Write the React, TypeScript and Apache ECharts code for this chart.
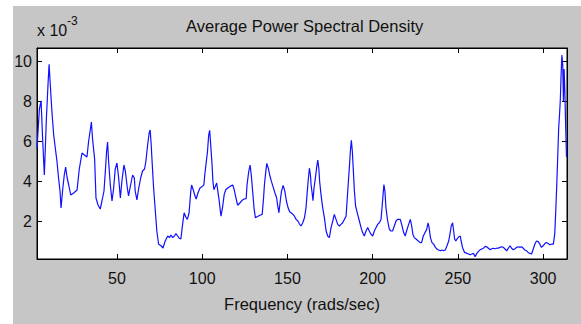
import React, { useEffect, useRef } from "react";
import * as echarts from "echarts";

// Frequency (rads/sec)
const freq = [
  3.1, 4.5, 5.5, 6.4, 7.4, 8.6, 9.6, 10.2, 10.9, 11.9, 12.9, 13.9, 14.8, 15.8, 16.6, 17.2, 18.2, 19.1, 19.9, 20.7,
  21.7, 22.9, 24.6, 26.6, 27.9, 29.5, 30.9, 32.4, 33.4, 34.6, 35.0, 35.7, 36.9, 37.7, 38.9, 40.2, 41.2, 42.4, 43.2, 43.9,
  44.5, 45.1, 46.1, 47.1, 48.0, 49.0, 50.0, 51.0, 52.0, 52.9, 54.1, 54.9, 56.1, 56.8, 58.0, 59.2, 60.2, 60.7, 61.7, 62.7,
  63.9, 65.0, 66.2, 67.0, 68.0, 68.9, 69.5, 70.1, 70.5, 71.5, 72.5, 73.4, 74.4, 76.0, 77.0, 78.3,
  79.8, 80.8, 81.7, 82.7, 83.7, 84.6, 85.6, 86.5, 87.5, 88.5, 89.4, 90.4, 91.3, 92.3, 93.3, 93.8, 94.6, 95.6, 96.5, 97.5,
  98.7, 100.0, 101.0, 101.5, 102.3, 103.1, 103.8, 104.4, 105.0, 105.8, 106.3, 106.9, 107.7, 108.5, 109.2, 110.0, 111.0, 111.9, 112.9, 113.8,
  115.0, 116.3, 117.9, 118.8, 119.8, 120.8, 122.1, 123.5, 124.6, 125.8, 126.3, 127.3, 128.1, 128.8, 129.6, 130.4, 131.2, 132.7, 134.2, 135.2,
  136.0, 136.5, 137.3, 137.9, 138.8, 139.6, 140.6, 141.5, 142.7, 143.7, 144.2, 145.0, 145.8, 146.5, 147.5, 148.5, 149.4, 150.4, 151.3, 152.9,
  154.1, 155.1, 156.1, 157.0, 158.0, 159.0, 160.0, 160.9, 161.5, 162.3, 162.9, 163.5, 163.9, 164.5, 165.0, 165.6, 166.4, 167.2, 167.8, 168.4,
  168.9, 169.7, 170.7, 171.7, 172.7, 173.6, 174.6, 175.6, 176.6, 177.5, 178.5, 179.5, 180.5, 181.4, 182.4, 183.4, 184.4, 185.0, 185.5, 186.3,
  186.9, 187.5, 188.1, 188.7, 189.3, 190.0, 191.2, 192.2, 193.2, 194.1, 195.1, 196.1, 197.1, 198.0, 199.0, 200.0, 201.0, 202.0, 202.9, 203.9,
  204.9, 205.5, 206.1, 206.6, 207.2, 207.8, 208.8, 209.8, 210.7, 211.7, 212.7, 213.7, 214.6, 216.2, 217.0, 218.2, 219.1, 219.9, 221.1, 222.1,
  222.9, 223.6, 224.4, 225.6, 226.8, 227.9, 228.7, 229.7,
  231.7, 232.5, 233.1, 233.9, 234.8, 235.8, 236.8, 237.7, 238.7, 239.7, 240.7, 241.6, 242.6, 243.6, 244.6, 245.5, 246.1, 246.9, 247.5, 248.1,
  248.8, 249.4, 250.4, 251.4, 251.9, 252.7, 253.9, 255.3, 256.2, 257.2, 258.2, 259.1, 260.1, 261.1, 262.1, 263.0, 264.0, 265.0, 266.0, 266.9,
  267.9, 268.9, 269.8, 270.8, 271.8, 272.8, 273.7, 274.7, 275.7, 276.7, 277.6, 278.6, 279.6, 280.5, 281.5, 282.5, 283.5, 284.4, 285.4, 286.4,
  287.4, 288.3, 289.3, 290.3, 291.2, 292.2, 293.2, 294.2, 295.1, 296.1, 297.1, 298.1, 299.0, 300.0, 301.0, 301.9, 302.9, 303.9, 304.9, 306.0,
  306.8, 307.4, 308.0, 308.6, 309.1, 309.7, 310.1, 310.5, 311.0, 311.5, 311.9, 312.3, 312.7, 313.2, 313.7,
];

// Average PSD (x 10^-3)
const psd = [
  5.63, 7.6, 8.0, 6.1, 4.3, 7.1, 8.9, 9.83, 8.8, 7.4, 6.3, 5.6, 5.0, 4.1, 3.5, 2.65, 3.6, 4.3, 4.7, 4.2,
  3.8, 3.3, 3.4, 3.55, 4.6, 5.4, 5.3, 5.2, 6.0, 6.7, 6.95, 6.1, 5.1, 3.15, 2.8, 2.6, 3.0, 3.5, 4.5, 5.45,
  5.95, 5.0, 3.8, 3.0, 3.6, 4.6, 4.9, 4.15, 3.15, 4.0, 4.8, 4.5, 3.65, 3.25, 3.8, 4.3, 4.15, 3.5, 3.05, 3.6,
  4.15, 4.5, 4.6, 5.0, 5.8, 6.4, 6.55, 5.8, 5.15, 3.65, 2.5, 1.5, 0.85, 0.75, 0.65, 1.0,
  1.25, 1.17, 1.3, 1.17, 1.25, 1.37, 1.25, 1.14, 1.1, 1.83, 2.41, 2.2, 2.08, 2.4, 3.48, 3.8, 3.6, 3.3, 3.1, 3.4,
  3.65, 3.73, 3.8, 4.3, 4.88, 5.46, 6.29, 6.53, 5.8, 4.8, 3.98, 3.56, 3.73, 3.9, 3.48, 3.0, 2.24, 2.66, 3.32, 3.56,
  3.65, 3.73, 3.8, 3.56, 3.15, 2.79, 2.9, 3.04, 3.1, 3.12, 3.8, 4.47, 4.8, 4.3, 3.48, 2.66, 2.16, 2.24, 2.3, 2.33,
  3.15, 3.8, 4.47, 4.88, 4.64, 4.3, 3.98, 3.73, 3.4, 3.15, 2.82, 2.41, 3.0, 3.48, 3.78, 3.48, 3.0, 2.66, 2.46, 2.36,
  2.24, 2.08, 2.0, 1.86, 1.75, 1.91, 2.16, 2.66, 3.32, 4.14, 4.64, 4.3, 3.8, 3.4, 3.02, 3.65, 4.14, 4.72, 5.05, 4.64,
  3.98, 3.32, 2.66, 2.16, 1.5, 1.25, 1.17, 1.67, 2.0, 2.33, 2.08, 1.83, 1.75, 1.83, 1.91, 2.08, 2.24, 3.0, 3.65, 4.64,
  5.46, 6.04, 5.46, 4.47, 3.48, 2.74, 2.33, 2.0, 1.67, 1.42, 1.25, 1.5, 1.67, 1.5, 1.34, 1.25, 1.5, 1.67, 1.83, 1.91,
  2.08, 2.66, 3.32, 3.82, 3.48, 2.66, 2.0, 1.58, 1.5, 1.5, 1.75, 2.0, 2.08, 2.08, 1.83, 1.42, 1.25, 1.5, 1.83, 2.08,
  1.75, 1.34, 1.17, 1.09, 1.0, 0.92, 0.92, 1.25,
  1.58, 1.91, 1.67, 1.17, 0.92, 0.84, 0.68, 0.6, 0.55, 0.51, 0.55, 0.51, 0.55, 0.76, 1.0, 1.42, 1.75, 1.91, 1.5, 1.09,
  1.0, 1.09, 1.2, 1.25, 1.0, 0.68, 0.43, 0.38, 0.35, 0.31, 0.35, 0.38, 0.22, 0.38, 0.48, 0.56, 0.6, 0.64, 0.73, 0.71,
  0.64, 0.56, 0.61, 0.64, 0.61, 0.64, 0.64, 0.68, 0.71, 0.68, 0.6, 0.51, 0.64, 0.76, 0.64, 0.56, 0.61, 0.68, 0.71, 0.68,
  0.71, 0.64, 0.55, 0.51, 0.43, 0.38, 0.35, 0.6, 0.84, 1.0, 0.97, 0.84, 0.68, 0.76, 0.87, 0.92, 0.87, 0.81, 0.84, 0.84,
  1.34, 2.49, 3.81, 5.3, 6.62, 7.44, 8.1, 9.2, 10.3, 9.8, 8.0, 9.6, 8.6, 6.8, 5.2,
];

const xTicks = [50, 100, 150, 200, 250, 300];
const yTicks = [2, 4, 6, 8, 10];

const FONT = "'Liberation Sans', Arial, Helvetica, sans-serif";

export default function App() {
  const ref = useRef<HTMLDivElement>(null);

  useEffect(() => {
    if (!ref.current) return;
    const chart = echarts.init(ref.current, undefined, { renderer: "svg" });
    const data = freq.map((f, i) => [f, psd[i]]);
    const tickCommon = { inside: true, length: 5, lineStyle: { color: "#000", width: 1 } };
    const lineCommon = { show: true, onZero: false, lineStyle: { color: "#000", width: 1 } };
    chart.setOption({
      animation: false,
      backgroundColor: "transparent",
      title: {
        text: "Average Power Spectral Density",
        left: 181,
        top: 12,
        textStyle: { fontSize: 16.5, fontWeight: "normal", color: "#111", fontFamily: FONT },
      },
      grid: {
        left: 37,
        top: 48,
        width: 530,
        height: 211,
        show: true,
        backgroundColor: "#ffffff",
        borderColor: "#000",
        borderWidth: 1,
      },
      xAxis: [
        {
          type: "value",
          min: 3.1,
          max: 314,
          position: "bottom",
          name: "Frequency (rads/sec)",
          nameLocation: "middle",
          nameGap: 36,
          nameTextStyle: { fontSize: 16.5, color: "#111", fontFamily: FONT },
          axisLine: lineCommon,
          axisTick: { ...tickCommon, customValues: xTicks },
          axisLabel: { customValues: xTicks, fontSize: 16, color: "#111", fontFamily: FONT, margin: 11 },
          splitLine: { show: false },
        },
        {
          type: "value",
          min: 3.1,
          max: 314,
          position: "top",
          axisLine: lineCommon,
          axisTick: { ...tickCommon, customValues: xTicks },
          axisLabel: { show: false },
          splitLine: { show: false },
        },
      ],
      yAxis: [
        {
          type: "value",
          min: 0.1,
          max: 10.65,
          position: "left",
          axisLine: lineCommon,
          axisTick: { ...tickCommon, customValues: yTicks },
          axisLabel: { customValues: yTicks, fontSize: 16, color: "#111", fontFamily: FONT, margin: 5 },
          splitLine: { show: false },
        },
        {
          type: "value",
          min: 0.1,
          max: 10.65,
          position: "right",
          axisLine: lineCommon,
          axisTick: { ...tickCommon, customValues: yTicks },
          axisLabel: { show: false },
          splitLine: { show: false },
        },
      ],
      graphic: [
        {
          type: "text",
          x: 37,
          y: 30,
          style: { text: "x 10", fontSize: 16, fill: "#111", fontFamily: FONT, textVerticalAlign: "middle" },
        },
        {
          type: "text",
          x: 67,
          y: 21,
          style: { text: "-3", fontSize: 12, fill: "#111", fontFamily: FONT, textVerticalAlign: "middle" },
        },
      ],
      series: [
        {
          type: "line",
          xAxisIndex: 0,
          yAxisIndex: 0,
          data,
          showSymbol: false,
          symbol: "none",
          lineStyle: { color: "#1010ff", width: 1.2 },
          clip: true,
        },
      ],
    });
    return () => chart.dispose();
  }, []);

  return (
    <div style={{ position: "fixed", left: 0, top: 0, width: 581, height: 324, background: "#ffffff" }}>
      <div style={{ position: "absolute", left: 13, top: 6, width: 568, height: 318, background: "#c6c6c6" }} />
      <div ref={ref} style={{ position: "absolute", left: 0, top: 0, width: 581, height: 324 }} />
    </div>
  );
}
